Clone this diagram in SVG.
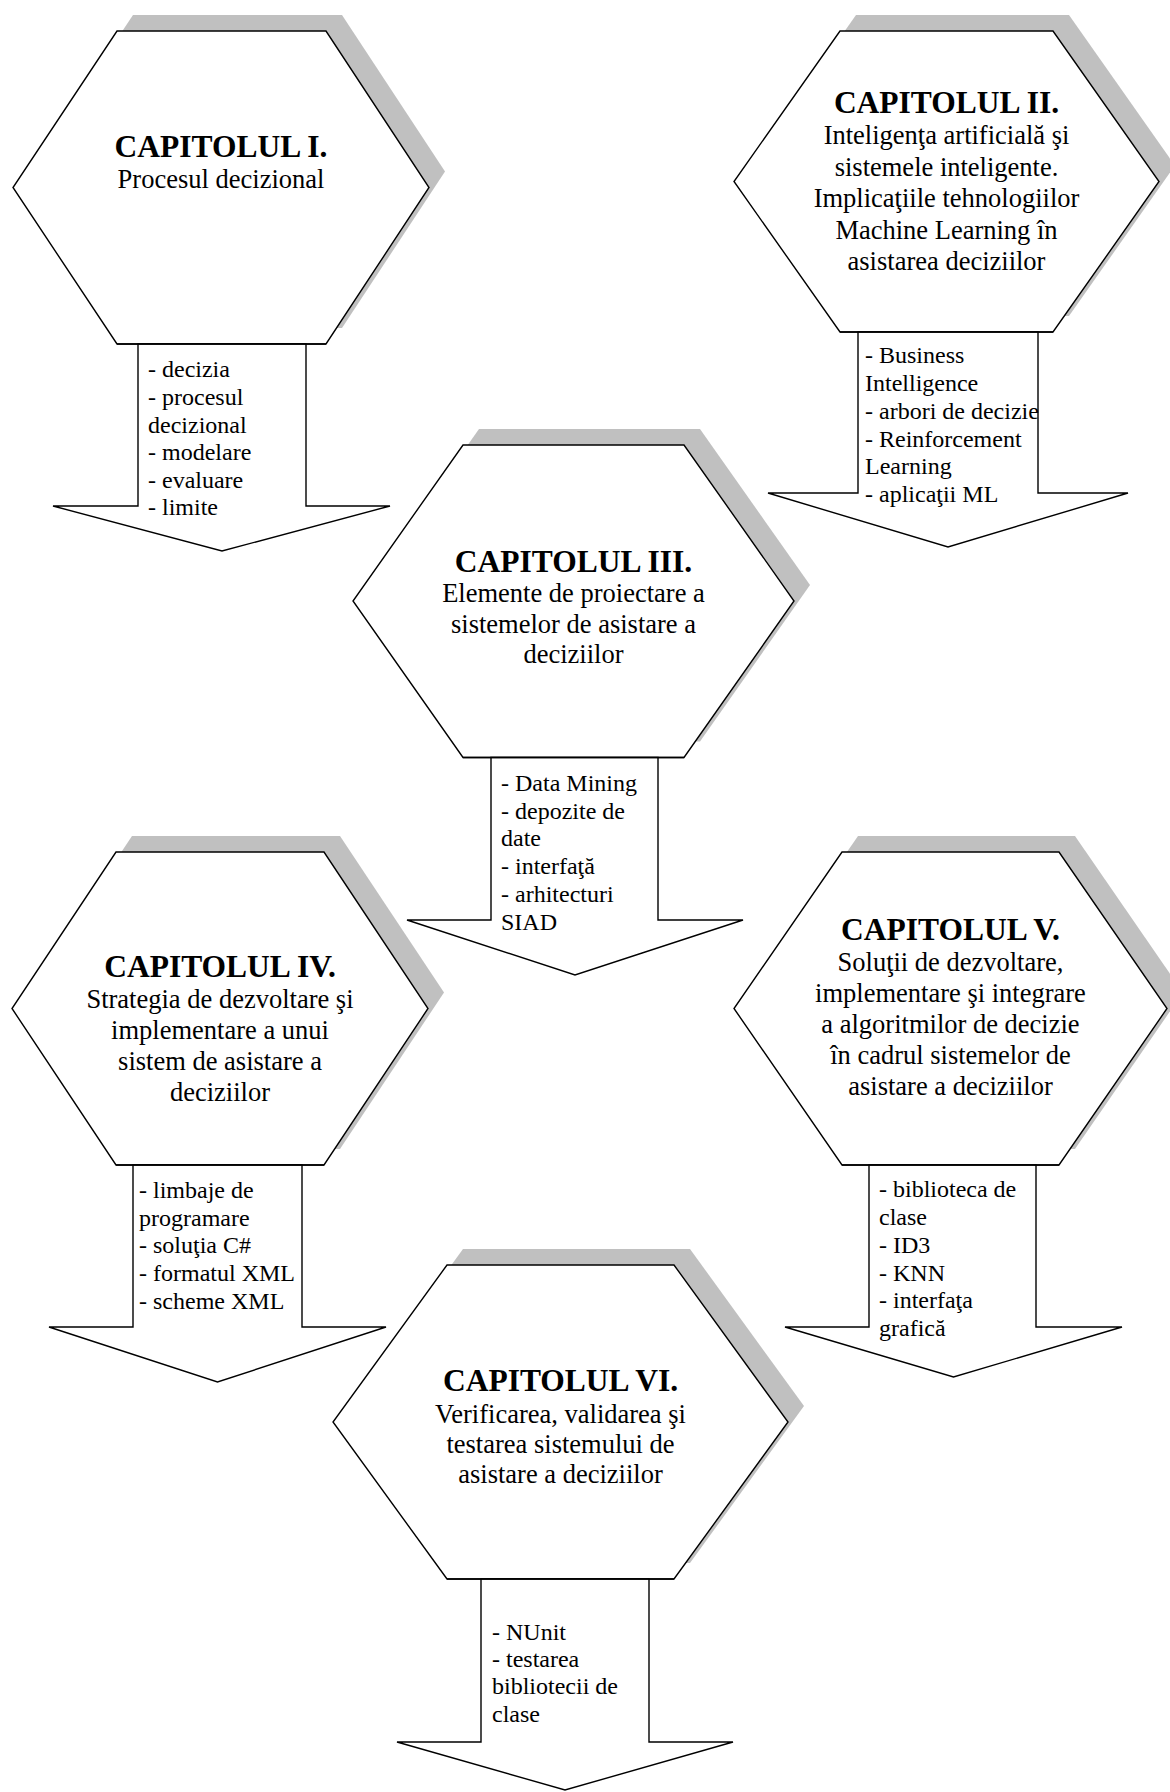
<svg xmlns="http://www.w3.org/2000/svg" width="1170" height="1792" viewBox="0 0 1170 1792">
<style>
.bg{fill:#ffffff}
.shadow{fill:#c0c0c0;stroke:none}
.hex{fill:#ffffff;stroke:#000000;stroke-width:1.4;stroke-linejoin:miter}
.arrow{fill:#ffffff;stroke:#000000;stroke-width:1.4;stroke-linejoin:miter}
.t{font-family:"Liberation Serif","Times New Roman",serif;fill:#000000}
.title{font-size:31.5px;font-weight:bold;text-anchor:middle}
.body{font-size:26.5px;text-anchor:middle}
.list{font-size:24px}
</style>
<rect class="bg" x="0" y="0" width="1170" height="1792"/>

<g id="node-cap1">
  <polygon class="shadow" points="133,15 342,15 445,171.5 342,328 133,328 29,171.5"/>
  <polygon class="hex" points="117,31 326,31 429,187.5 326,344 117,344 13,187.5"/>
  <polygon class="arrow" points="138,344 138,506 53,506 222,551 390,506 306,506 306,344"/>
  <line x1="117" y1="344" x2="326" y2="344" stroke="#000" stroke-width="1.4"/>
  <text class="t title" x="221" y="157">CAPITOLUL I.</text>
  <text class="t body" x="221" y="188">Procesul decizional</text>
  <text class="t list" x="148" y="377">- decizia</text>
  <text class="t list" x="148" y="405">- procesul</text>
  <text class="t list" x="148" y="433">decizional</text>
  <text class="t list" x="148" y="460">- modelare</text>
  <text class="t list" x="148" y="488">- evaluare</text>
  <text class="t list" x="148" y="515">- limite</text>
</g>

<g id="node-cap2">
  <polygon class="shadow" points="856,15 1069,15 1175,165.5 1069,316 856,316 750,165.5"/>
  <polygon class="hex" points="840,31 1053,31 1159,181.5 1053,332 840,332 734,181.5"/>
  <polygon class="arrow" points="858,332 858,493 768,493 948,547 1128,493 1038,493 1038,332"/>
  <line x1="840" y1="332" x2="1053" y2="332" stroke="#000" stroke-width="1.4"/>
  <text class="t title" x="946.5" y="113">CAPITOLUL II.</text>
  <text class="t body" x="946.5" y="144">Inteligenţa artificială şi</text>
  <text class="t body" x="946.5" y="176">sistemele inteligente.</text>
  <text class="t body" x="946.5" y="207">Implicaţiile tehnologiilor</text>
  <text class="t body" x="946.5" y="239">Machine Learning în</text>
  <text class="t body" x="946.5" y="270">asistarea deciziilor</text>
  <text class="t list" x="865" y="363">- Business</text>
  <text class="t list" x="865" y="391">Intelligence</text>
  <text class="t list" x="865" y="419">- arbori de decizie</text>
  <text class="t list" x="865" y="447">- Reinforcement</text>
  <text class="t list" x="865" y="474">Learning</text>
  <text class="t list" x="865" y="502">- aplicaţii ML</text>
</g>

<g id="node-cap3">
  <polygon class="shadow" points="479,429 700,429 810,585 700,741.5 479,741.5 369,585"/>
  <polygon class="hex" points="463,445 684,445 794,601 684,757.5 463,757.5 353,601"/>
  <polygon class="arrow" points="491,757.5 491,920 407,920 575,975 743,920 658,920 658,757.5"/>
  <line x1="463" y1="757.5" x2="684" y2="757.5" stroke="#000" stroke-width="1.4"/>
  <text class="t title" x="573.5" y="572">CAPITOLUL III.</text>
  <text class="t body" x="573.5" y="602">Elemente de proiectare a</text>
  <text class="t body" x="573.5" y="633">sistemelor de asistare a</text>
  <text class="t body" x="573.5" y="663">deciziilor</text>
  <text class="t list" x="501" y="791">- Data Mining</text>
  <text class="t list" x="501" y="818.7">- depozite de</text>
  <text class="t list" x="501" y="846.4">date</text>
  <text class="t list" x="501" y="874">- interfaţă</text>
  <text class="t list" x="501" y="901.8">- arhitecturi</text>
  <text class="t list" x="501" y="929.5">SIAD</text>
</g>

<g id="node-cap4">
  <polygon class="shadow" points="132,836 340,836 444,992.5 340,1149 132,1149 28,992.5"/>
  <polygon class="hex" points="116,852 324,852 428,1008.5 324,1165 116,1165 12,1008.5"/>
  <polygon class="arrow" points="133,1165 133,1327 49,1327 217.5,1382 386,1327 302,1327 302,1165"/>
  <line x1="116" y1="1165" x2="324" y2="1165" stroke="#000" stroke-width="1.4"/>
  <text class="t title" x="220" y="977">CAPITOLUL IV.</text>
  <text class="t body" x="220" y="1008">Strategia de dezvoltare şi</text>
  <text class="t body" x="220" y="1039">implementare a unui</text>
  <text class="t body" x="220" y="1070">sistem de asistare a</text>
  <text class="t body" x="220" y="1101">deciziilor</text>
  <text class="t list" x="139" y="1198">- limbaje de</text>
  <text class="t list" x="139" y="1226">programare</text>
  <text class="t list" x="139" y="1253">- soluţia C#</text>
  <text class="t list" x="139" y="1281">- formatul XML</text>
  <text class="t list" x="139" y="1309">- scheme XML</text>
</g>

<g id="node-cap5">
  <polygon class="shadow" points="858,836 1075,836 1183,992.5 1075,1149 858,1149 750,992.5"/>
  <polygon class="hex" points="842,852 1059,852 1167,1008.5 1059,1165 842,1165 734,1008.5"/>
  <polygon class="arrow" points="869,1165 869,1327 785,1327 953.5,1377 1122,1327 1036,1327 1036,1165"/>
  <line x1="842" y1="1165" x2="1059" y2="1165" stroke="#000" stroke-width="1.4"/>
  <text class="t title" x="950.5" y="940">CAPITOLUL V.</text>
  <text class="t body" x="950.5" y="971">Soluţii de dezvoltare,</text>
  <text class="t body" x="950.5" y="1002">implementare şi integrare</text>
  <text class="t body" x="950.5" y="1033">a algoritmilor de decizie</text>
  <text class="t body" x="950.5" y="1064">în cadrul sistemelor de</text>
  <text class="t body" x="950.5" y="1095">asistare a deciziilor</text>
  <text class="t list" x="879" y="1197">- biblioteca de</text>
  <text class="t list" x="879" y="1225">clase</text>
  <text class="t list" x="879" y="1253">- ID3</text>
  <text class="t list" x="879" y="1281">- KNN</text>
  <text class="t list" x="879" y="1308">- interfaţa</text>
  <text class="t list" x="879" y="1336">grafică</text>
</g>

<g id="node-cap6">
  <polygon class="shadow" points="463,1249 690,1249 804,1406 690,1563 463,1563 349,1406"/>
  <polygon class="hex" points="447,1265 674,1265 788,1422 674,1579 447,1579 333,1422"/>
  <polygon class="arrow" points="481,1579 481,1742 397,1742 565,1790 733,1742 649,1742 649,1579"/>
  <line x1="447" y1="1579" x2="674" y2="1579" stroke="#000" stroke-width="1.4"/>
  <text class="t title" x="560.5" y="1391">CAPITOLUL VI.</text>
  <text class="t body" x="560.5" y="1423">Verificarea, validarea şi</text>
  <text class="t body" x="560.5" y="1453">testarea sistemului de</text>
  <text class="t body" x="560.5" y="1483">asistare a deciziilor</text>
  <text class="t list" x="492" y="1640">- NUnit</text>
  <text class="t list" x="492" y="1667">- testarea</text>
  <text class="t list" x="492" y="1694">bibliotecii de</text>
  <text class="t list" x="492" y="1722">clase</text>
</g>

<g id="connectors"></g>
</svg>
